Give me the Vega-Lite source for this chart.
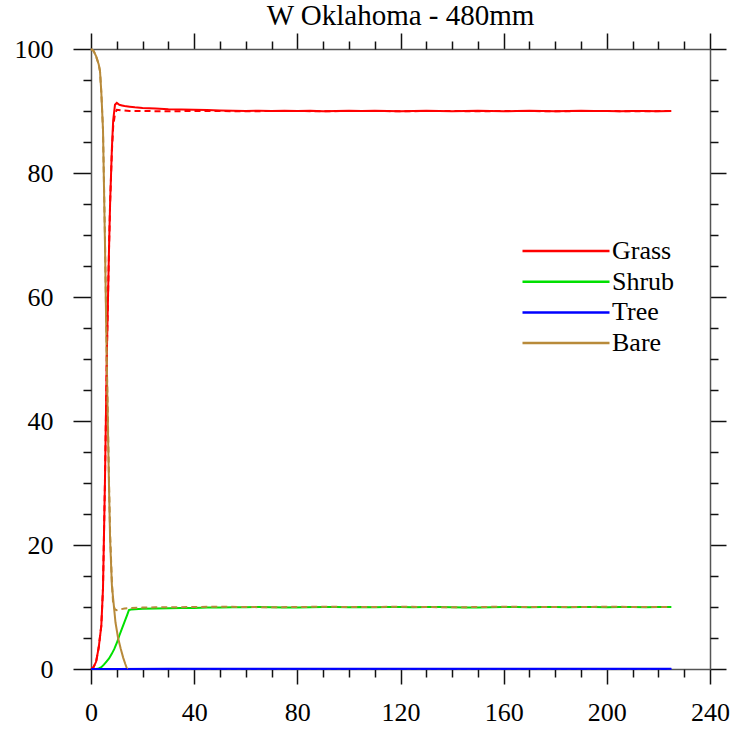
{
  "$schema": "https://vega.github.io/schema/vega-lite/v6.json",
  "autosize": {"type": "none"},
  "padding": {"left": 91, "top": 49, "right": 26, "bottom": 63},
  "width": 619,
  "height": 620,
  "background": "white",
  "title": {"text": "W Oklahoma - 480mm", "font": "Liberation Serif", "fontSize": 29, "fontWeight": "normal", "color": "black", "anchor": "middle", "offset": 1},
  "config": {
    "view": {"stroke": null},
    "axis": {"grid": false, "domainColor": "#555555", "domainWidth": 1.5, "tickColor": "#111111", "tickWidth": 1.5, "labelFont": "Liberation Serif", "labelFontSize": 26, "labelColor": "black", "title": null},
    "legend": {"labelFont": "Liberation Serif", "labelFontSize": 26, "labelColor": "black"}
  },
  "data": {"values": [
    {"year":0,"type":"Grass","run":"solid","pct":0},
    {"year":1,"type":"Grass","run":"solid","pct":0.3},
    {"year":2,"type":"Grass","run":"solid","pct":1.2},
    {"year":3,"type":"Grass","run":"solid","pct":3.5},
    {"year":4,"type":"Grass","run":"solid","pct":7},
    {"year":4.65,"type":"Grass","run":"solid","pct":13},
    {"year":5.4,"type":"Grass","run":"solid","pct":30},
    {"year":6.2,"type":"Grass","run":"solid","pct":52},
    {"year":7,"type":"Grass","run":"solid","pct":68},
    {"year":7.4,"type":"Grass","run":"solid","pct":75},
    {"year":8.1,"type":"Grass","run":"solid","pct":84},
    {"year":8.6,"type":"Grass","run":"solid","pct":88.5},
    {"year":9.3,"type":"Grass","run":"solid","pct":91.0},
    {"year":10,"type":"Grass","run":"solid","pct":91.3},
    {"year":11,"type":"Grass","run":"solid","pct":91.0},
    {"year":12,"type":"Grass","run":"solid","pct":90.9},
    {"year":13,"type":"Grass","run":"solid","pct":90.8},
    {"year":15,"type":"Grass","run":"solid","pct":90.7},
    {"year":17,"type":"Grass","run":"solid","pct":90.6},
    {"year":20,"type":"Grass","run":"solid","pct":90.5},
    {"year":25,"type":"Grass","run":"solid","pct":90.4},
    {"year":30,"type":"Grass","run":"solid","pct":90.3},
    {"year":35,"type":"Grass","run":"solid","pct":90.25},
    {"year":40,"type":"Grass","run":"solid","pct":90.2},
    {"year":45,"type":"Grass","run":"solid","pct":90.15},
    {"year":50,"type":"Grass","run":"solid","pct":90.1},
    {"year":55,"type":"Grass","run":"solid","pct":90.05},
    {"year":60,"type":"Grass","run":"solid","pct":90.0},
    {"year":65,"type":"Grass","run":"solid","pct":90.05},
    {"year":70,"type":"Grass","run":"solid","pct":90.0},
    {"year":75,"type":"Grass","run":"solid","pct":90.05},
    {"year":80,"type":"Grass","run":"solid","pct":90.0},
    {"year":85,"type":"Grass","run":"solid","pct":90.05},
    {"year":90,"type":"Grass","run":"solid","pct":89.95},
    {"year":95,"type":"Grass","run":"solid","pct":90.0},
    {"year":100,"type":"Grass","run":"solid","pct":90.05},
    {"year":105,"type":"Grass","run":"solid","pct":90.0},
    {"year":110,"type":"Grass","run":"solid","pct":90.05},
    {"year":115,"type":"Grass","run":"solid","pct":90.0},
    {"year":120,"type":"Grass","run":"solid","pct":89.95},
    {"year":125,"type":"Grass","run":"solid","pct":90.0},
    {"year":130,"type":"Grass","run":"solid","pct":90.05},
    {"year":135,"type":"Grass","run":"solid","pct":90.0},
    {"year":140,"type":"Grass","run":"solid","pct":89.95},
    {"year":145,"type":"Grass","run":"solid","pct":90.0},
    {"year":150,"type":"Grass","run":"solid","pct":90.05},
    {"year":155,"type":"Grass","run":"solid","pct":90.0},
    {"year":160,"type":"Grass","run":"solid","pct":89.95},
    {"year":165,"type":"Grass","run":"solid","pct":90.0},
    {"year":170,"type":"Grass","run":"solid","pct":90.05},
    {"year":175,"type":"Grass","run":"solid","pct":90.0},
    {"year":180,"type":"Grass","run":"solid","pct":89.95},
    {"year":185,"type":"Grass","run":"solid","pct":90.0},
    {"year":190,"type":"Grass","run":"solid","pct":90.05},
    {"year":195,"type":"Grass","run":"solid","pct":90.0},
    {"year":200,"type":"Grass","run":"solid","pct":90.0},
    {"year":205,"type":"Grass","run":"solid","pct":89.95},
    {"year":210,"type":"Grass","run":"solid","pct":90.0},
    {"year":215,"type":"Grass","run":"solid","pct":90.0},
    {"year":220,"type":"Grass","run":"solid","pct":89.95},
    {"year":225,"type":"Grass","run":"solid","pct":90.0},

    {"year":0,"type":"Shrub","run":"solid","pct":0},
    {"year":2,"type":"Shrub","run":"solid","pct":0},
    {"year":3,"type":"Shrub","run":"solid","pct":0.1},
    {"year":4,"type":"Shrub","run":"solid","pct":0.3},
    {"year":5,"type":"Shrub","run":"solid","pct":0.7},
    {"year":6,"type":"Shrub","run":"solid","pct":1.2},
    {"year":7,"type":"Shrub","run":"solid","pct":1.7},
    {"year":8,"type":"Shrub","run":"solid","pct":2.4},
    {"year":9,"type":"Shrub","run":"solid","pct":3.2},
    {"year":10,"type":"Shrub","run":"solid","pct":4.2},
    {"year":11,"type":"Shrub","run":"solid","pct":5.4},
    {"year":12,"type":"Shrub","run":"solid","pct":6.5},
    {"year":13,"type":"Shrub","run":"solid","pct":7.6},
    {"year":14,"type":"Shrub","run":"solid","pct":8.7},
    {"year":14.7,"type":"Shrub","run":"solid","pct":9.5},
    {"year":15.5,"type":"Shrub","run":"solid","pct":9.6},
    {"year":17,"type":"Shrub","run":"solid","pct":9.65},
    {"year":20,"type":"Shrub","run":"solid","pct":9.7},
    {"year":25,"type":"Shrub","run":"solid","pct":9.75},
    {"year":30,"type":"Shrub","run":"solid","pct":9.8},
    {"year":35,"type":"Shrub","run":"solid","pct":9.85},
    {"year":40,"type":"Shrub","run":"solid","pct":9.85},
    {"year":45,"type":"Shrub","run":"solid","pct":9.9},
    {"year":50,"type":"Shrub","run":"solid","pct":9.9},
    {"year":55,"type":"Shrub","run":"solid","pct":9.95},
    {"year":60,"type":"Shrub","run":"solid","pct":9.95},
    {"year":65,"type":"Shrub","run":"solid","pct":10.0},
    {"year":70,"type":"Shrub","run":"solid","pct":9.95},
    {"year":75,"type":"Shrub","run":"solid","pct":9.9},
    {"year":80,"type":"Shrub","run":"solid","pct":9.9},
    {"year":85,"type":"Shrub","run":"solid","pct":9.95},
    {"year":90,"type":"Shrub","run":"solid","pct":10.0},
    {"year":95,"type":"Shrub","run":"solid","pct":10.0},
    {"year":100,"type":"Shrub","run":"solid","pct":9.95},
    {"year":105,"type":"Shrub","run":"solid","pct":10.0},
    {"year":110,"type":"Shrub","run":"solid","pct":9.95},
    {"year":115,"type":"Shrub","run":"solid","pct":10.0},
    {"year":120,"type":"Shrub","run":"solid","pct":10.0},
    {"year":125,"type":"Shrub","run":"solid","pct":9.95},
    {"year":130,"type":"Shrub","run":"solid","pct":10.0},
    {"year":135,"type":"Shrub","run":"solid","pct":10.0},
    {"year":140,"type":"Shrub","run":"solid","pct":9.95},
    {"year":145,"type":"Shrub","run":"solid","pct":9.9},
    {"year":150,"type":"Shrub","run":"solid","pct":9.9},
    {"year":155,"type":"Shrub","run":"solid","pct":9.95},
    {"year":160,"type":"Shrub","run":"solid","pct":10.0},
    {"year":165,"type":"Shrub","run":"solid","pct":10.0},
    {"year":170,"type":"Shrub","run":"solid","pct":9.95},
    {"year":175,"type":"Shrub","run":"solid","pct":10.0},
    {"year":180,"type":"Shrub","run":"solid","pct":10.0},
    {"year":185,"type":"Shrub","run":"solid","pct":9.95},
    {"year":190,"type":"Shrub","run":"solid","pct":10.0},
    {"year":195,"type":"Shrub","run":"solid","pct":10.0},
    {"year":200,"type":"Shrub","run":"solid","pct":9.95},
    {"year":205,"type":"Shrub","run":"solid","pct":10.0},
    {"year":210,"type":"Shrub","run":"solid","pct":10.0},
    {"year":215,"type":"Shrub","run":"solid","pct":9.95},
    {"year":220,"type":"Shrub","run":"solid","pct":10.0},
    {"year":225,"type":"Shrub","run":"solid","pct":10.0},

    {"year":0,"type":"Tree","run":"solid","pct":0},
    {"year":10,"type":"Tree","run":"solid","pct":0},
    {"year":30,"type":"Tree","run":"solid","pct":0.05},
    {"year":60,"type":"Tree","run":"solid","pct":0.05},
    {"year":100,"type":"Tree","run":"solid","pct":0.05},
    {"year":150,"type":"Tree","run":"solid","pct":0.05},
    {"year":200,"type":"Tree","run":"solid","pct":0.05},
    {"year":225,"type":"Tree","run":"solid","pct":0.05},

    {"year":0,"type":"Bare","run":"solid","pct":100},
    {"year":1,"type":"Bare","run":"solid","pct":99.7},
    {"year":2,"type":"Bare","run":"solid","pct":98.8},
    {"year":3,"type":"Bare","run":"solid","pct":97.5},
    {"year":3.5,"type":"Bare","run":"solid","pct":96.4},
    {"year":4,"type":"Bare","run":"solid","pct":93},
    {"year":4.65,"type":"Bare","run":"solid","pct":87},
    {"year":5.4,"type":"Bare","run":"solid","pct":69},
    {"year":6.2,"type":"Bare","run":"solid","pct":47},
    {"year":7,"type":"Bare","run":"solid","pct":29},
    {"year":7.4,"type":"Bare","run":"solid","pct":21},
    {"year":8.1,"type":"Bare","run":"solid","pct":13.5},
    {"year":8.6,"type":"Bare","run":"solid","pct":11.3},
    {"year":9.5,"type":"Bare","run":"solid","pct":7.5},
    {"year":10.5,"type":"Bare","run":"solid","pct":5.0},
    {"year":11.5,"type":"Bare","run":"solid","pct":3.3},
    {"year":12.5,"type":"Bare","run":"solid","pct":1.8},
    {"year":13.3,"type":"Bare","run":"solid","pct":0.8},
    {"year":14,"type":"Bare","run":"solid","pct":0},

    {"year":0,"type":"Grass","run":"dashed","pct":0},
    {"year":1,"type":"Grass","run":"dashed","pct":0.3},
    {"year":2,"type":"Grass","run":"dashed","pct":1.2},
    {"year":3,"type":"Grass","run":"dashed","pct":3.5},
    {"year":4,"type":"Grass","run":"dashed","pct":7},
    {"year":4.65,"type":"Grass","run":"dashed","pct":13},
    {"year":5.4,"type":"Grass","run":"dashed","pct":30},
    {"year":6.2,"type":"Grass","run":"dashed","pct":52},
    {"year":7,"type":"Grass","run":"dashed","pct":68},
    {"year":7.4,"type":"Grass","run":"dashed","pct":75},
    {"year":8.1,"type":"Grass","run":"dashed","pct":83.5},
    {"year":8.6,"type":"Grass","run":"dashed","pct":87.5},
    {"year":9.3,"type":"Grass","run":"dashed","pct":89.6},
    {"year":10,"type":"Grass","run":"dashed","pct":90.2},
    {"year":12,"type":"Grass","run":"dashed","pct":90.1},
    {"year":15,"type":"Grass","run":"dashed","pct":90.0},
    {"year":20,"type":"Grass","run":"dashed","pct":90.0},
    {"year":30,"type":"Grass","run":"dashed","pct":89.95},
    {"year":40,"type":"Grass","run":"dashed","pct":90.0},
    {"year":50,"type":"Grass","run":"dashed","pct":90.0},
    {"year":60,"type":"Grass","run":"dashed","pct":89.95},
    {"year":70,"type":"Grass","run":"dashed","pct":90.0},
    {"year":80,"type":"Grass","run":"dashed","pct":90.0},
    {"year":90,"type":"Grass","run":"dashed","pct":89.95},
    {"year":100,"type":"Grass","run":"dashed","pct":90.0},
    {"year":110,"type":"Grass","run":"dashed","pct":90.0},
    {"year":120,"type":"Grass","run":"dashed","pct":89.95},
    {"year":130,"type":"Grass","run":"dashed","pct":90.0},
    {"year":140,"type":"Grass","run":"dashed","pct":90.0},
    {"year":150,"type":"Grass","run":"dashed","pct":89.95},
    {"year":160,"type":"Grass","run":"dashed","pct":90.0},
    {"year":170,"type":"Grass","run":"dashed","pct":90.0},
    {"year":180,"type":"Grass","run":"dashed","pct":89.95},
    {"year":190,"type":"Grass","run":"dashed","pct":90.0},
    {"year":200,"type":"Grass","run":"dashed","pct":90.0},
    {"year":210,"type":"Grass","run":"dashed","pct":89.95},
    {"year":225,"type":"Grass","run":"dashed","pct":90.0},

    {"year":0,"type":"Bare","run":"dashed","pct":100},
    {"year":1,"type":"Bare","run":"dashed","pct":99.7},
    {"year":2,"type":"Bare","run":"dashed","pct":98.8},
    {"year":3,"type":"Bare","run":"dashed","pct":97.5},
    {"year":3.5,"type":"Bare","run":"dashed","pct":96.4},
    {"year":4,"type":"Bare","run":"dashed","pct":93},
    {"year":4.65,"type":"Bare","run":"dashed","pct":87},
    {"year":5.4,"type":"Bare","run":"dashed","pct":70},
    {"year":6.2,"type":"Bare","run":"dashed","pct":48},
    {"year":7,"type":"Bare","run":"dashed","pct":30},
    {"year":7.4,"type":"Bare","run":"dashed","pct":22},
    {"year":8.1,"type":"Bare","run":"dashed","pct":14},
    {"year":8.6,"type":"Bare","run":"dashed","pct":10.4},
    {"year":9.3,"type":"Bare","run":"dashed","pct":9.6},
    {"year":10,"type":"Bare","run":"dashed","pct":9.5},
    {"year":11,"type":"Bare","run":"dashed","pct":9.6},
    {"year":13,"type":"Bare","run":"dashed","pct":9.75},
    {"year":15,"type":"Bare","run":"dashed","pct":9.85},
    {"year":20,"type":"Bare","run":"dashed","pct":9.9},
    {"year":25,"type":"Bare","run":"dashed","pct":9.95},
    {"year":30,"type":"Bare","run":"dashed","pct":9.95},
    {"year":40,"type":"Bare","run":"dashed","pct":10.0},
    {"year":50,"type":"Bare","run":"dashed","pct":10.05},
    {"year":60,"type":"Bare","run":"dashed","pct":10.0},
    {"year":70,"type":"Bare","run":"dashed","pct":9.95},
    {"year":80,"type":"Bare","run":"dashed","pct":10.0},
    {"year":90,"type":"Bare","run":"dashed","pct":10.05},
    {"year":100,"type":"Bare","run":"dashed","pct":10.0},
    {"year":110,"type":"Bare","run":"dashed","pct":10.0},
    {"year":120,"type":"Bare","run":"dashed","pct":10.05},
    {"year":130,"type":"Bare","run":"dashed","pct":10.0},
    {"year":140,"type":"Bare","run":"dashed","pct":9.95},
    {"year":150,"type":"Bare","run":"dashed","pct":10.0},
    {"year":160,"type":"Bare","run":"dashed","pct":10.05},
    {"year":170,"type":"Bare","run":"dashed","pct":10.0},
    {"year":180,"type":"Bare","run":"dashed","pct":10.0},
    {"year":190,"type":"Bare","run":"dashed","pct":10.0},
    {"year":200,"type":"Bare","run":"dashed","pct":10.05},
    {"year":210,"type":"Bare","run":"dashed","pct":10.0},
    {"year":225,"type":"Bare","run":"dashed","pct":10.0},

    {"year":0,"type":"Tree","run":"dashed","pct":0},
    {"year":50,"type":"Tree","run":"dashed","pct":0},
    {"year":100,"type":"Tree","run":"dashed","pct":0},
    {"year":150,"type":"Tree","run":"dashed","pct":0},
    {"year":225,"type":"Tree","run":"dashed","pct":0}
  ]},
  "resolve": {"axis": {"x": "independent", "y": "independent"}},
  "layer": [
    {
      "transform": [{"filter": "datum.run === 'solid' && datum.type === 'Grass'"}],
      "mark": {"type": "line", "strokeWidth": 2},
      "encoding": {
        "x": {"field": "year", "type": "quantitative", "scale": {"domain": [0, 240], "nice": false, "zero": false},
              "axis": {"orient": "bottom", "values": [0, 40, 80, 120, 160, 200, 240], "tickSize": 15, "labelPadding": 15, "labelFlush": false, "labelOverlap": false, "labelFont": "Liberation Serif", "labelFontSize": 26}},
        "y": {"field": "pct", "type": "quantitative", "scale": {"domain": [0, 100], "nice": false, "zero": false},
              "axis": {"orient": "left", "values": [0, 20, 40, 60, 80, 100], "tickSize": 18, "labelPadding": 20, "labelFlush": false, "labelOverlap": false, "labelFont": "Liberation Serif", "labelFontSize": 26}},
        "color": {"field": "type", "type": "nominal",
                  "scale": {"domain": ["Grass", "Shrub", "Tree", "Bare"], "range": ["#ff0000", "#00e000", "#0000ff", "#b88a3a"]},
                  "legend": {"title": null, "orient": "none", "legendX": 430, "legendY": 191.5, "padding": 0, "symbolType": "stroke", "symbolSize": 7569, "symbolStrokeWidth": 2.5, "clipHeight": 21, "rowPadding": 3.7, "labelOffset": 1, "labelFont": "Liberation Serif", "labelFontSize": 26}}
      }
    },
    {
      "transform": [{"filter": "datum.run === 'solid' && datum.type === 'Shrub'"}],
      "mark": {"type": "line", "strokeWidth": 2},
      "encoding": {
        "x": {"field": "year", "type": "quantitative", "scale": {"domain": [0, 240], "nice": false, "zero": false},
              "axis": {"orient": "bottom", "values": [10, 20, 30, 50, 60, 70, 90, 100, 110, 130, 140, 150, 170, 180, 190, 210, 220, 230], "tickSize": 8, "labels": false, "domain": false}},
        "y": {"field": "pct", "type": "quantitative", "scale": {"domain": [0, 100], "nice": false, "zero": false},
              "axis": {"orient": "left", "values": [5, 10, 15, 25, 30, 35, 45, 50, 55, 65, 70, 75, 85, 90, 95], "tickSize": 8, "labels": false, "domain": false}},
        "color": {"field": "type", "type": "nominal", "scale": {"domain": ["Grass", "Shrub", "Tree", "Bare"], "range": ["#ff0000", "#00e000", "#0000ff", "#b88a3a"]}, "legend": null}
      }
    },
    {
      "transform": [{"filter": "datum.run === 'solid' && datum.type === 'Tree'"}],
      "mark": {"type": "line", "strokeWidth": 2},
      "encoding": {
        "x": {"field": "year", "type": "quantitative", "scale": {"domain": [0, 240], "nice": false, "zero": false},
              "axis": {"orient": "top", "values": [0, 40, 80, 120, 160, 200, 240], "tickSize": 16, "labels": false}},
        "y": {"field": "pct", "type": "quantitative", "scale": {"domain": [0, 100], "nice": false, "zero": false},
              "axis": {"orient": "right", "values": [0, 20, 40, 60, 80, 100], "tickSize": 16, "labels": false}},
        "color": {"field": "type", "type": "nominal", "scale": {"domain": ["Grass", "Shrub", "Tree", "Bare"], "range": ["#ff0000", "#00e000", "#0000ff", "#b88a3a"]}, "legend": null}
      }
    },
    {
      "transform": [{"filter": "datum.run === 'solid' && datum.type === 'Bare'"}],
      "mark": {"type": "line", "strokeWidth": 2},
      "encoding": {
        "x": {"field": "year", "type": "quantitative", "scale": {"domain": [0, 240], "nice": false, "zero": false},
              "axis": {"orient": "top", "values": [10, 20, 30, 50, 60, 70, 90, 100, 110, 130, 140, 150, 170, 180, 190, 210, 220, 230], "tickSize": 8, "labels": false, "domain": false}},
        "y": {"field": "pct", "type": "quantitative", "scale": {"domain": [0, 100], "nice": false, "zero": false},
              "axis": {"orient": "right", "values": [5, 10, 15, 25, 30, 35, 45, 50, 55, 65, 70, 75, 85, 90, 95], "tickSize": 8, "labels": false, "domain": false}},
        "color": {"field": "type", "type": "nominal", "scale": {"domain": ["Grass", "Shrub", "Tree", "Bare"], "range": ["#ff0000", "#00e000", "#0000ff", "#b88a3a"]}, "legend": null}
      }
    },
    {
      "transform": [{"filter": "datum.run === 'dashed'"}],
      "mark": {"type": "line", "strokeWidth": 2, "strokeDash": [6, 4]},
      "encoding": {
        "x": {"field": "year", "type": "quantitative", "scale": {"domain": [0, 240], "nice": false, "zero": false}, "axis": null},
        "y": {"field": "pct", "type": "quantitative", "scale": {"domain": [0, 100], "nice": false, "zero": false}, "axis": null},
        "color": {"field": "type", "type": "nominal", "scale": {"domain": ["Grass", "Shrub", "Tree", "Bare"], "range": ["#ff0000", "#00e000", "#0000ff", "#b88a3a"]}, "legend": null},
        "detail": {"field": "type", "type": "nominal"}
      }
    }
  ]
}
